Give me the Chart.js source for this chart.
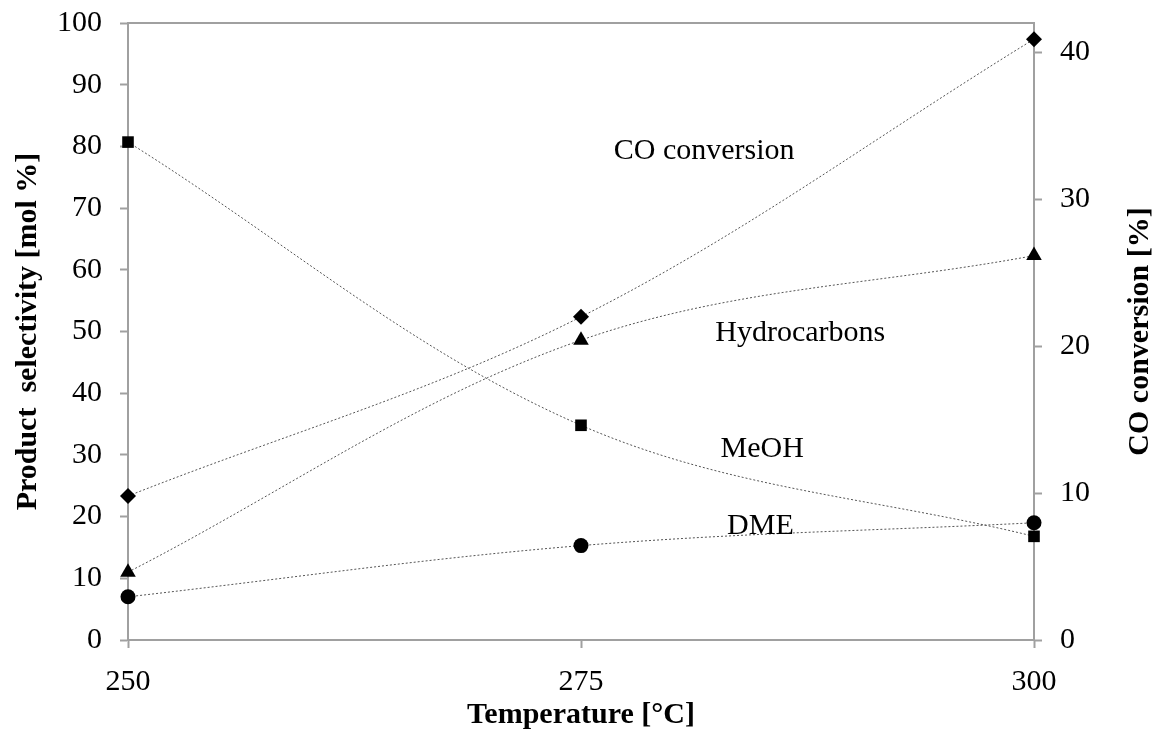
<!DOCTYPE html>
<html>
<head>
<meta charset="utf-8">
<title>Product selectivity and CO conversion vs temperature</title>
<script src="https://cdn.jsdelivr.net/npm/chart.js@4.4.1/dist/chart.umd.min.js"></script>
<style>
  html, body { margin: 0; padding: 0; background: #fff; }
</style>
</head>
<body>
<canvas id="chart" width="1157" height="731"></canvas>
<script>
// Reaction temperatures [°C]
const temperatures = [250, 275, 300];
const xTicks = [250, 275, 300];

// Product selectivity [mol %] (left axis)
const meoh = [80.7, 34.8, 16.8];
const hydrocarbons = [11.0, 48.6, 62.3];
const dme = [7.0, 15.3, 19.0];

// CO conversion [%] (right axis)
const coConversion = [9.8, 22.0, 40.9];

const seriesNames = ["CO conversion", "Hydrocarbons", "MeOH", "DME"];

const SERIF = "'Liberation Serif', 'Times New Roman', serif";
const AXIS_GREY = "#a0a0a0";

const toPoints = ys => temperatures.map((t, i) => ({ x: t, y: ys[i] }));

function series(label, ys, pointStyle, radius, axis) {
  return {
    label,
    data: toPoints(ys),
    yAxisID: axis,
    clip: false,
    borderColor: "#555",
    borderWidth: 1,
    borderDash: [2, 2],
    tension: 0.35,
    fill: false,
    pointStyle,
    pointRadius: radius,
    pointBackgroundColor: "#000",
    pointBorderColor: "#000",
    pointBorderWidth: 0
  };
}

// vertical axes: fixed width, and no extra room reserved above/below for tick labels
const fixWidth = w => s => {
  s.width = w;
  s.paddingTop = 0;
  s.paddingBottom = 0;
};

// frame top edge, series captions inside the plot, right axis title
const decorations = {
  id: "decorations",
  beforeDatasetsDraw(chart) {
    const { ctx, chartArea } = chart;
    ctx.save();
    ctx.strokeStyle = AXIS_GREY;
    ctx.lineWidth = 2;
    ctx.beginPath();
    ctx.moveTo(chartArea.left, chartArea.top);
    ctx.lineTo(chartArea.right, chartArea.top);
    ctx.stroke();
    ctx.restore();
  },
  afterDraw(chart) {
    const { ctx, chartArea, scales } = chart;
    // caption anchors in data units (temperature, selectivity)
    const anchors = [[281.8, 79.3], [287.1, 49.8], [285.0, 31.0], [284.9, 18.5]];
    ctx.save();
    ctx.fillStyle = "#000";
    ctx.font = "30px " + SERIF;
    ctx.textAlign = "center";
    ctx.textBaseline = "middle";
    seriesNames.forEach((name, i) => {
      ctx.fillText(name, scales.x.getPixelForValue(anchors[i][0]), scales.y.getPixelForValue(anchors[i][1]));
    });

    ctx.translate(1140, (chartArea.top + chartArea.bottom) / 2);
    ctx.rotate(-Math.PI / 2);
    ctx.font = "bold 30px " + SERIF;
    ctx.fillText("CO conversion [%]", 0, 0);
    ctx.restore();
  }
};

const tickFont = { family: SERIF, size: 30 };
const titleFont = { family: SERIF, size: 30, weight: "bold", lineHeight: 1 };

new Chart(document.getElementById("chart"), {
  type: "line",
  data: {
    datasets: [
      series("MeOH", meoh, "rect", 8.2, "y"),
      series("Hydrocarbons", hydrocarbons, "triangle", 9, "y"),
      series("DME", dme, "circle", 7.5, "y"),
      series("CO conversion", coConversion, "rectRot", 8, "y1")
    ]
  },
  options: {
    responsive: false,
    devicePixelRatio: 1,
    animation: false,
    layout: { padding: { top: 23, left: 0, right: 0, bottom: 0 } },
    plugins: {
      legend: { display: false },
      tooltip: { enabled: false }
    },
    scales: {
      x: {
        type: "linear",
        min: 250,
        max: 300,
        afterBuildTicks: s => { s.ticks = xTicks.map(v => ({ value: v })); },
        afterFit: s => { s.height = 91; },
        ticks: { font: tickFont, color: "#000", padding: 16, maxRotation: 0 },
        grid: { drawOnChartArea: false, tickLength: 8, tickColor: AXIS_GREY, tickWidth: 2 },
        border: { color: AXIS_GREY, width: 2 },
        title: { display: true, text: "Temperature [°C]", font: titleFont, color: "#000", padding: { top: 0, bottom: 1 } }
      },
      y: {
        position: "left",
        min: 0,
        max: 100,
        afterFit: fixWidth(128),
        ticks: { stepSize: 10, font: tickFont, color: "#000", padding: 18 },
        grid: { drawOnChartArea: false, tickLength: 8, tickColor: AXIS_GREY, tickWidth: 2 },
        border: { color: AXIS_GREY, width: 2 },
        title: { display: true, text: "Product  selectivity [mol %]", font: titleFont, color: "#000", padding: { top: 13, bottom: 0 } }
      },
      y1: {
        position: "right",
        min: 0,
        max: 42,
        afterFit: fixWidth(123),
        ticks: { stepSize: 10, includeBounds: false, font: tickFont, color: "#000", padding: 18 },
        grid: { drawOnChartArea: false, tickLength: 8, tickColor: AXIS_GREY, tickWidth: 2 },
        border: { color: AXIS_GREY, width: 2 }
      }
    }
  },
  plugins: [decorations]
});
</script>
</body>
</html>
